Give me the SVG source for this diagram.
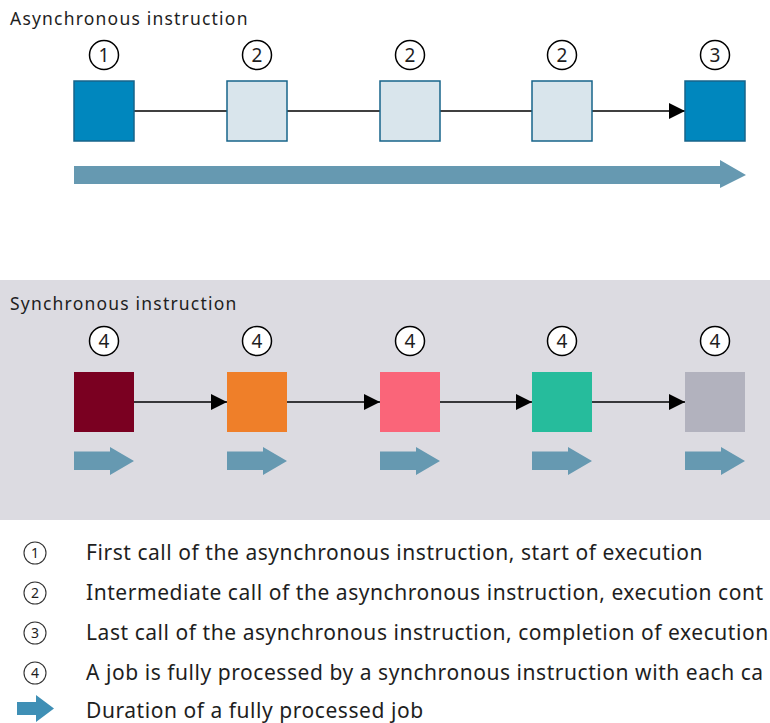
<svg xmlns="http://www.w3.org/2000/svg" width="770" height="723" viewBox="0 0 770 723">
<style>
text{font-family:"Noto Sans","Open Sans","Liberation Sans",sans-serif;fill:#1e1e1e}
.title{font-size:17.5px;letter-spacing:1.2px}
.num{font-size:19px;text-anchor:middle}
.lnum{font-size:14px;text-anchor:middle}
.leg{font-size:21px;letter-spacing:0.55px}
.ring{fill:none;stroke:#000;stroke-width:1.5}
.ringw{fill:#fff;stroke:#000;stroke-width:1.5}
.lring{fill:none;stroke:#333;stroke-width:1.1}
.dark{fill:#0087be;stroke:#17648a;stroke-width:1.5}
.light{fill:#d9e5ec;stroke:#17648a;stroke-width:1.5}
.conn{stroke:#000;stroke-width:1.6;fill:none}
.dur{fill:#6699b1}
</style>
<defs>
<marker id="ah2" markerWidth="16" markerHeight="16" refX="16" refY="8" orient="auto" markerUnits="userSpaceOnUse" viewBox="0 0 16 16">
<path d="M0,0 L16,8 L0,16 Z" fill="#000"/>
</marker>
</defs>

<rect x="0" y="280" width="770" height="240" fill="#dcdbe1"/>

<text class="title" x="10" y="25">Asynchronous instruction</text>
<text class="title" x="10" y="310">Synchronous instruction</text>

<g id="connectors">
<line class="conn" x1="134" y1="111" x2="227" y2="111"/>
<line class="conn" x1="287" y1="111" x2="380" y2="111"/>
<line class="conn" x1="440" y1="111" x2="532" y2="111"/>
<line class="conn" x1="592" y1="111" x2="685" y2="111" marker-end="url(#ah2)"/>
<line class="conn" x1="134" y1="402" x2="227" y2="402" marker-end="url(#ah2)"/>
<line class="conn" x1="287" y1="402" x2="380" y2="402" marker-end="url(#ah2)"/>
<line class="conn" x1="440" y1="402" x2="532" y2="402" marker-end="url(#ah2)"/>
<line class="conn" x1="592" y1="402" x2="685" y2="402" marker-end="url(#ah2)"/>
</g>

<g id="a1"><circle class="ring" cx="104" cy="55" r="14.5"/><text class="num" x="104" y="62">1</text><rect class="dark" x="74" y="81" width="60" height="60"/></g>
<g id="a2"><circle class="ring" cx="257" cy="55" r="14.5"/><text class="num" x="257" y="62">2</text><rect class="light" x="227" y="81" width="60" height="60"/></g>
<g id="a3"><circle class="ring" cx="410" cy="55" r="14.5"/><text class="num" x="410" y="62">2</text><rect class="light" x="380" y="81" width="60" height="60"/></g>
<g id="a4"><circle class="ring" cx="562" cy="55" r="14.5"/><text class="num" x="562" y="62">2</text><rect class="light" x="532" y="81" width="60" height="60"/></g>
<g id="a5"><circle class="ring" cx="715" cy="55" r="14.5"/><text class="num" x="715" y="62">3</text><rect class="dark" x="685" y="81" width="60" height="60"/></g>

<g id="async-duration"><path class="dur" d="M74,166 H720 V160 L746,175 L720,188 V184 H74 Z"/></g>

<g id="s1"><circle class="ringw" cx="104" cy="341" r="14.5"/><text class="num" x="104" y="348">4</text><rect fill="#7a0021" x="74" y="372" width="60" height="60"/><path class="dur" d="M74,451.5 H110 V447 L134,461 L110,475 V470 H74 Z"/></g>
<g id="s2"><circle class="ringw" cx="257" cy="341" r="14.5"/><text class="num" x="257" y="348">4</text><rect fill="#ef7f29" x="227" y="372" width="60" height="60"/><path class="dur" d="M227,451.5 H263 V447 L287,461 L263,475 V470 H227 Z"/></g>
<g id="s3"><circle class="ringw" cx="410" cy="341" r="14.5"/><text class="num" x="410" y="348">4</text><rect fill="#fa6579" x="380" y="372" width="60" height="60"/><path class="dur" d="M380,451.5 H416 V447 L440,461 L416,475 V470 H380 Z"/></g>
<g id="s4"><circle class="ringw" cx="562" cy="341" r="14.5"/><text class="num" x="562" y="348">4</text><rect fill="#26bc9c" x="532" y="372" width="60" height="60"/><path class="dur" d="M532,451.5 H568 V447 L592,461 L568,475 V470 H532 Z"/></g>
<g id="s5"><circle class="ringw" cx="715" cy="341" r="14.5"/><text class="num" x="715" y="348">4</text><rect fill="#b2b2be" x="685" y="372" width="60" height="60"/><path class="dur" d="M685,451.5 H721 V447 L745,461 L721,475 V470 H685 Z"/></g>

<g id="legend">
<circle class="lring" cx="35" cy="553" r="11"/><text class="lnum" x="35" y="558">1</text>
<text class="leg" x="86" y="560">First call of the asynchronous instruction, start of execution</text>
<circle class="lring" cx="35" cy="593" r="11"/><text class="lnum" x="35" y="598">2</text>
<text class="leg" x="86" y="600">Intermediate call of the asynchronous instruction, execution cont</text>
<circle class="lring" cx="35" cy="633" r="11"/><text class="lnum" x="35" y="638">3</text>
<text class="leg" x="86" y="640">Last call of the asynchronous instruction, completion of execution</text>
<circle class="lring" cx="35" cy="673" r="11"/><text class="lnum" x="35" y="678">4</text>
<text class="leg" x="86" y="680">A job is fully processed by a synchronous instruction with each ca</text>
<path fill="#3f8fb5" d="M17,702 H36 V695 L54,708.5 L36,722 V715 H17 Z"/>
<text class="leg" x="86" y="718">Duration of a fully processed job</text>
</g>
</svg>
